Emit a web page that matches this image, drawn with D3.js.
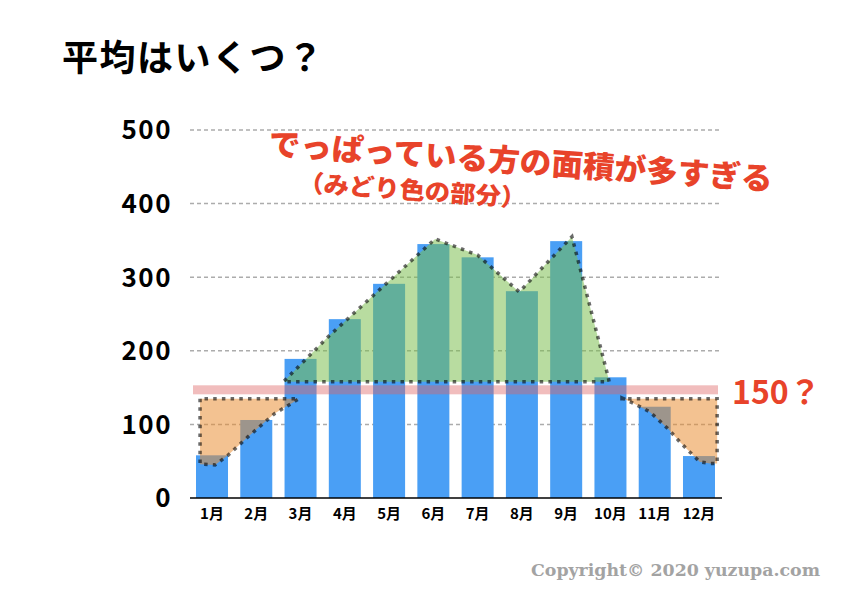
<!DOCTYPE html>
<html>
  <head>
    <meta charset="utf-8">
    <title>平均はいくつ？</title>
    <style>
      html, body { margin: 0; padding: 0; background: #fff; }
      svg { display: block; }
      text { font-family: "Noto Sans CJK JP", "Noto Sans", sans-serif; }
    </style>
  </head>
  <body>
    <div class='chart-container'></div>
    <script src="https://cdn.jsdelivr.net/npm/d3@7"></script>
    <script>
// chart data
var months = ['1月', '2月', '3月', '4月', '5月', '6月', '7月', '8月', '9月', '10月', '11月', '12月'];
var values = [58, 106, 189, 243, 291, 345, 327, 281, 349, 164, 124, 57];
var yTicks = [0, 100, 200, 300, 400, 500];
var guessValue = 147;   // the red "150?" band
var greenBase = 158;
var orangeTop = 135;

// hand drawn outlines, [month position, value]
var greenLine = [[1.63, 159], [2.64, 220], [5.04, 352], [6.0, 330], [6.94, 280], [8.13, 355], [8.95, 164], [8.97, 158]];
var orangeLeft = [[-0.27, 46], [0.07, 45], [0.36, 58], [0.81, 83], [1.42, 115], [1.81, 129], [1.96, 135]];
var orangeRight = [[9.26, 136], [9.51, 129], [9.89, 117], [10.16, 102], [10.3, 94], [10.57, 76], [10.8, 62], [11.02, 49], [11.25, 47], [11.41, 47]];

var title = '平均はいくつ？';
var note1 = 'でっぱっている方の面積が多すぎる';
var note2 = '（みどり色の部分）';
var guessLabel = '150？';
var copyright = 'Copyright© 2020 yuzupa.com';

var width = 842, height = 595;
var red = '#e8432a';
var dotStyle = {stroke: 'rgba(0,0,0,0.58)', width: 3.5, dash: '3.5 5.2'};

var svg = d3.select('.chart-container').append('svg')
    .attr('width', width)
    .attr('height', height);

var x = d3.scaleBand()
    .domain(months)
    .range([196, 715])
    .paddingInner(0.277)
    .paddingOuter(0);

var y = d3.scaleLinear()
    .domain([0, 500])
    .range([498, 130]);

// fractional month position -> pixel
function xPos(i) {
  return x(months[0]) + x.bandwidth() / 2 + i * x.step();
}

var x0 = x.range()[0], x1 = x.range()[1];

// title
svg.append('text')
    .attr('x', 62)
    .attr('y', 71)
    .style('font-size', '36px')
    .style('font-weight', 700)
    .style('letter-spacing', '1.5px')
    .text(title);

// gridlines
svg.append('g')
    .selectAll('line')
    .data(yTicks.filter(d => d > 0))
  .enter().append('line')
    .attr('x1', x0 - 6)
    .attr('x2', x1 + 6)
    .attr('y1', d => y(d))
    .attr('y2', d => y(d))
    .style('stroke', '#acacac')
    .style('stroke-width', 1.5)
    .style('stroke-dasharray', '4 3');

// y tick labels
svg.append('g')
    .selectAll('text')
    .data(yTicks)
  .enter().append('text')
    .attr('x', 172)
    .attr('y', d => y(d))
    .attr('dy', '0.36em')
    .attr('text-anchor', 'end')
    .style('font-size', '26px')
    .style('font-weight', 700)
    .style('letter-spacing', '1.5px')
    .text(d => d);

// bars
svg.append('g')
    .selectAll('rect')
    .data(values)
  .enter().append('rect')
    .attr('x', (d, i) => x(months[i]))
    .attr('width', x.bandwidth())
    .attr('y', d => y(d))
    .attr('height', d => y(0) - y(d))
    .style('fill', '#4a9ff5');

// axis line
svg.append('line')
    .attr('x1', x0 - 6)
    .attr('x2', x1 + 7)
    .attr('y1', y(0))
    .attr('y2', y(0))
    .style('stroke', '#000')
    .style('stroke-width', 1.5);

// month labels
svg.append('g')
    .selectAll('text')
    .data(months)
  .enter().append('text')
    .attr('x', d => x(d) + x.bandwidth() / 2)
    .attr('y', 519)
    .attr('text-anchor', 'middle')
    .style('font-size', '15px')
    .style('font-weight', 700)
    .text(d => d);

var line = d3.line()
    .x(d => xPos(d[0]))
    .y(d => y(d[1]));

// shapes built from the outlines
var greenShape = greenLine.concat([[greenLine[greenLine.length - 1][0], greenBase], [greenLine[0][0], greenBase]]);
var leftShape = [[orangeLeft[0][0], orangeTop]].concat(orangeLeft);
var lastR = orangeRight[orangeRight.length - 1];
var rightShape = orangeRight.concat([[lastR[0], orangeTop], [orangeRight[0][0], orangeTop]]);

var shapes = [
  {pts: greenShape, fill: 'rgba(121,189,75,0.53)'},
  {pts: leftShape, fill: 'rgba(232,140,48,0.53)'},
  {pts: rightShape, fill: 'rgba(232,140,48,0.53)'}
];

svg.append('g')
    .selectAll('path')
    .data(shapes)
  .enter().append('path')
    .attr('d', d => line(d.pts) + 'Z')
    .style('fill', d => d.fill);

// red guess band
svg.append('rect')
    .attr('x', x0 - 3)
    .attr('width', x1 - x0 + 6)
    .attr('y', y(guessValue) - 4.5)
    .attr('height', 9)
    .style('fill', 'rgba(222,98,98,0.42)');

// dotted outlines
svg.append('g')
    .selectAll('path')
    .data(shapes)
  .enter().append('path')
    .attr('d', d => line(d.pts) + 'Z')
    .style('fill', 'none')
    .style('stroke', dotStyle.stroke)
    .style('stroke-width', dotStyle.width)
    .style('stroke-dasharray', dotStyle.dash);

// 150? label
svg.append('text')
    .attr('x', 732)
    .attr('y', 404)
    .style('font-size', '32px')
    .style('font-weight', 700)
    .style('fill', red)
    .text(guessLabel);

// rotated note
var note = svg.append('g')
    .style('fill', red)
    .style('font-weight', 900);

note.append('text')
    .attr('transform', 'translate(268,155) rotate(4)')
    .attr('textLength', 505)
    .attr('lengthAdjust', 'spacingAndGlyphs')
    .style('font-size', '31px')
    .text(note1);

note.append('text')
    .attr('transform', 'translate(298,191) rotate(4)')
    .attr('textLength', 228)
    .attr('lengthAdjust', 'spacingAndGlyphs')
    .style('font-size', '24px')
    .text(note2);

// copyright
svg.append('text')
    .attr('x', 531)
    .attr('y', 576)
    .attr('textLength', 289)
    .attr('lengthAdjust', 'spacingAndGlyphs')
    .style('font-family', '"DejaVu Serif", serif')
    .style('font-size', '16px')
    .style('font-weight', 700)
    .style('fill', '#a3a3a3')
    .text(copyright);
    </script>
  </body>
</html>
